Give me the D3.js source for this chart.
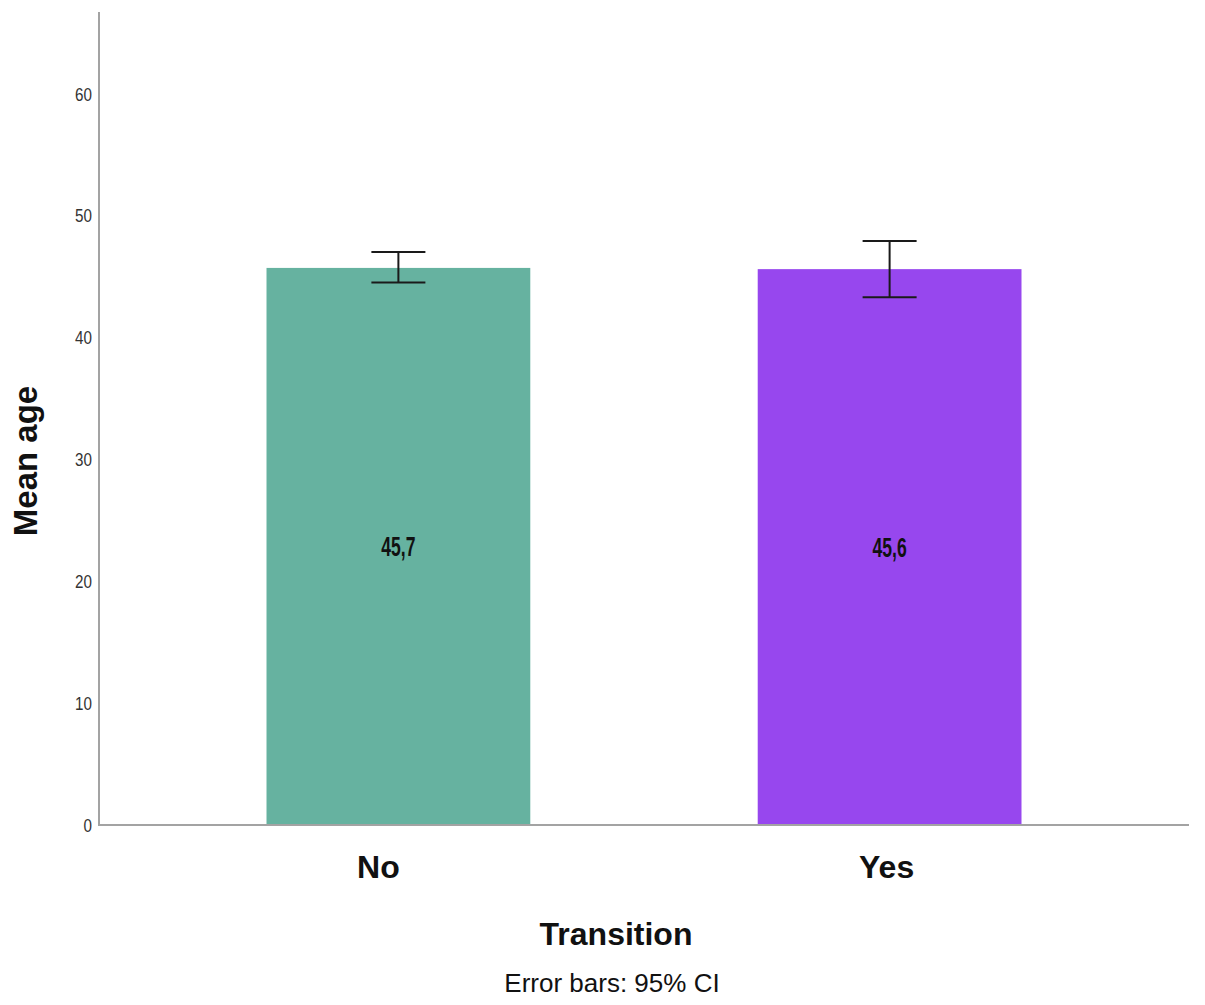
<!DOCTYPE html>
<html><head><meta charset="utf-8">
<script src="https://cdn.jsdelivr.net/npm/d3@7"></script>
<style>body{margin:0;background:#fff}</style>
</head><body>
<svg id="c" width="1205" height="1005"></svg>
<script>
const categories = ["No", "Yes"];
const means = [45.7, 45.6];
const ciLow = [44.5, 43.3];
const ciHigh = [47.0, 47.9];
const valueLabels = ["45,7", "45,6"];
const yTicks = [0, 10, 20, 30, 40, 50, 60];
const colors = ["#66b2a0", "#9747ee"];

const svg = d3.select("#c");
const x0 = 99, x1 = 1189, yBase = 825, yTop = 12;
const y = d3.scaleLinear().domain([0, 60]).range([yBase, yBase - 60*12.19]);
const x = d3.scaleBand().domain(categories).range([x0, x1]).paddingInner(0.463).paddingOuter(0.341);
// bars
svg.selectAll("rect.bar").data(categories).enter().append("rect")
  .attr("x", d => x(d)).attr("width", x.bandwidth())
  .attr("y", (d,i) => y(means[i])).attr("height", (d,i) => yBase - y(means[i]))
  .attr("fill", (d,i) => colors[i]);

// axes lines
svg.append("line").attr("x1", x0).attr("x2", x0).attr("y1", yTop).attr("y2", yBase+1)
  .attr("stroke", "#a3a3a3").attr("stroke-width", 2);
svg.append("line").attr("x1", x0).attr("x2", x1).attr("y1", yBase).attr("y2", yBase)
  .attr("stroke", "#a3a3a3").attr("stroke-width", 2);

// y ticks
svg.selectAll("text.yt").data(yTicks).enter().append("text")
  .attr("x", 92).attr("y", d => y(d) + 7).attr("text-anchor", "end")
  .attr("font-family", "'Liberation Sans', Arial, sans-serif")
  .attr("transform", d => `translate(92,0) scale(0.8,1) translate(-92,0)`)
  .attr("font-size", 19).attr("fill", "#333").text(d => d);

// error bars
const cap = 27;
categories.forEach((c, i) => {
  const cx = x(c) + x.bandwidth()/2;
  const g = svg.append("g").attr("stroke", "#1a1a1a").attr("stroke-width", 2);
  g.append("line").attr("x1", cx).attr("x2", cx).attr("y1", y(ciHigh[i])).attr("y2", y(ciLow[i]));
  g.append("line").attr("x1", cx-cap).attr("x2", cx+cap).attr("y1", y(ciHigh[i])).attr("y2", y(ciHigh[i]));
  g.append("line").attr("x1", cx-cap).attr("x2", cx+cap).attr("y1", y(ciLow[i])).attr("y2", y(ciLow[i]));
  svg.append("text").attr("x", cx).attr("y", y(means[i]/2) + 10).attr("text-anchor", "middle")
    .attr("font-family", "'Liberation Sans', Arial, sans-serif")
    .attr("font-weight", "bold").attr("font-size", 27).attr("fill", "#111")
    .attr("transform", `translate(${cx},0) scale(0.65,1) translate(${-cx},0)`)
    .text(valueLabels[i]);
  svg.append("text").attr("x", cx + (i ? -3 : -20)).attr("y", 878).attr("text-anchor", "middle")
    .attr("font-family", "'Liberation Sans', Arial, sans-serif").attr("font-weight", "bold")
    .attr("font-size", 32).attr("fill", "#111").text(c);
});

svg.append("text").attr("x", 616).attr("y", 945).attr("text-anchor", "middle")
  .attr("font-family", "'Liberation Sans', Arial, sans-serif").attr("font-weight", "bold")
  .attr("font-size", 32).attr("fill", "#111").text("Transition");
svg.append("text").attr("x", 612).attr("y", 992).attr("text-anchor", "middle")
  .attr("font-family", "'Liberation Sans', Arial, sans-serif")
  .attr("font-size", 26).attr("fill", "#111").text("Error bars: 95% CI");
svg.append("text").attr("transform", "translate(37,461) rotate(-90)").attr("text-anchor", "middle")
  .attr("font-family", "'Liberation Sans', Arial, sans-serif").attr("font-weight", "bold")
  .attr("font-size", 33).attr("fill", "#111").text("Mean age");
</script>
</body></html>
